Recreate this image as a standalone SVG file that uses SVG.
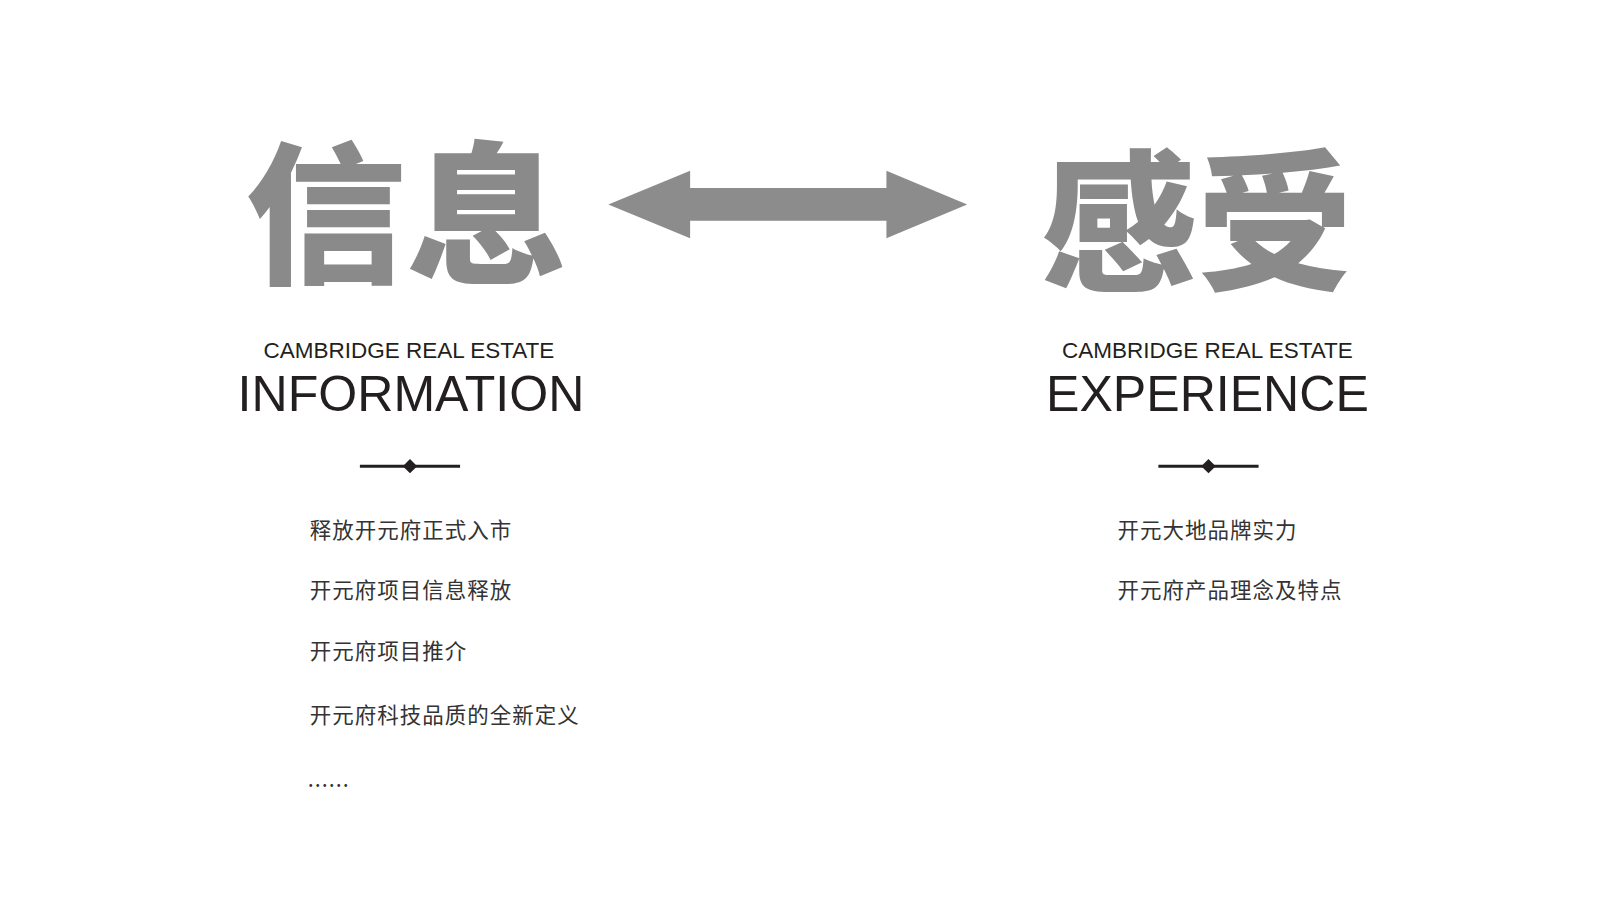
<svg xmlns="http://www.w3.org/2000/svg" width="1600" height="900" viewBox="0 0 1600 900">
<style>
.big{font-family:"Noto Sans CJK SC",sans-serif;font-weight:900;fill:#8a8a8a;font-size:150px}
.sub{font-family:"Liberation Sans",Arial,sans-serif;fill:#231f20;font-size:22px;text-anchor:middle}
.title{font-family:"Liberation Sans",Arial,sans-serif;fill:#231f20;font-size:49px;text-anchor:middle}
.item{font-family:"Noto Sans CJK SC",sans-serif;fill:#333;font-size:21px;letter-spacing:1px}
</style>
<rect width="1600" height="900" fill="#fff"/>
<g transform="scale(1.0224)">
<g id="left">
<text class="big" x="240" y="266" textLength="315" lengthAdjust="spacingAndGlyphs">信息</text>
<text class="sub" x="400" y="350">CAMBRIDGE REAL ESTATE</text>
<text class="title" x="402" y="402">INFORMATION</text>
<line x1="352" y1="456" x2="450" y2="456" stroke="#231f20" stroke-width="3"/>
<polygon points="401,449 408,456 401,463 394,456" fill="#231f20"/>
<text class="item" x="303" y="526">释放开元府正式入市</text>
<text class="item" x="303" y="585">开元府项目信息释放</text>
<text class="item" x="303" y="645">开元府项目推介</text>
<text class="item" x="303" y="707">开元府科技品质的全新定义</text>
<text class="item" x="301" y="770">......</text>
</g>
<g id="right">
<text class="big" x="1018" y="274" textLength="305" lengthAdjust="spacingAndGlyphs">感受</text>
<text class="sub" x="1181" y="350">CAMBRIDGE REAL ESTATE</text>
<text class="title" x="1181" y="402">EXPERIENCE</text>
<line x1="1133" y1="456" x2="1231" y2="456" stroke="#231f20" stroke-width="3"/>
<polygon points="1182,449 1189,456 1182,463 1175,456" fill="#231f20"/>
<text class="item" x="1093" y="526">开元大地品牌实力</text>
<text class="item" x="1093" y="585">开元府产品理念及特点</text>
</g>
<g id="connectors">
<polygon points="595,200 675,167 675,184 867,184 867,167 946,200 867,233 867,216 675,216 675,233" fill="#8c8c8c"/>
</g>
</g>
</svg>
